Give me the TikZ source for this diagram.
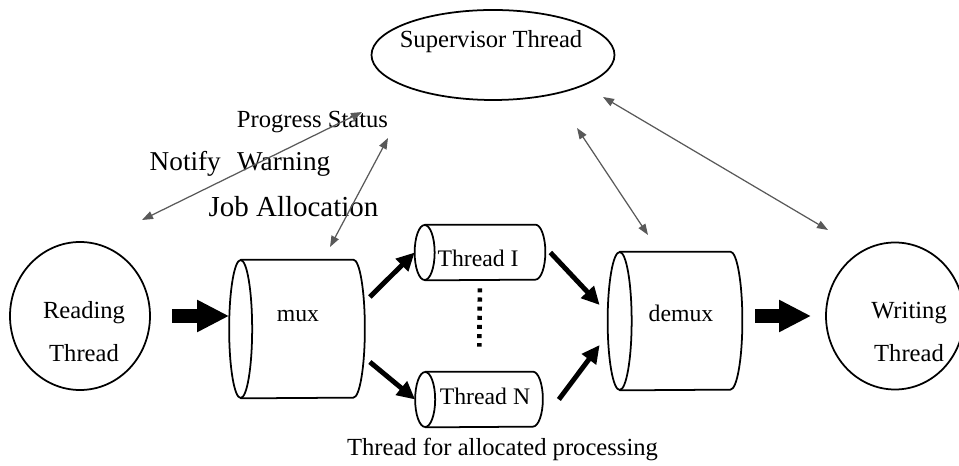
\documentclass[tikz,border=0pt]{standalone}
\usepackage{fontspec}
\setmainfont{Liberation Serif}
\usepackage{tikz}
\usetikzlibrary{arrows.meta}
\usetikzlibrary{shapes.geometric}
\usetikzlibrary{calc}
\usetikzlibrary{positioning}

\begin{document}
\begin{tikzpicture}[thread/.style={draw, ellipse, line width=1pt, inner sep=0pt},
buffer/.style={rectangle, inner sep=0pt},
txt/.style={inner sep=0pt, align=center, font=\fontsize{14}{24.5}\selectfont},
small/.style={inner sep=0pt, font=\fontsize{13.5}{16}\selectfont},
big/.style={inner sep=0pt, font=\fontsize{15.5}{18}\selectfont},
fat/.style={line width=8pt, -{Triangle[length=0.64cm,width=0.6cm]}},
feed/.style={line width=2.8pt, -{Triangle[length=0.36cm,width=0.34cm]}},
link/.style={black!65, line width=0.7pt,
{Triangle[length=0.22cm,width=0.16cm]}-{Triangle[length=0.22cm,width=0.16cm]}}]
\useasboundingbox (0,0) rectangle (19.18,9.30);

% threads
\node[thread, minimum width=4.86cm, minimum height=1.8cm] (sup) at (9.86,8.20){};
\node[thread, minimum width=2.8cm, minimum height=2.96cm] (rd) at (1.60,2.98){};
\node[thread, minimum width=2.76cm, minimum height=2.94cm] (wr) at (17.90,2.98){};
\node[txt] (suptxt) at (9.82,8.47){Supervisor Thread};
\node[txt] (rdtxt) at (1.68,2.66){Reading\\Thread};
\node[txt] (wrtxt) at (18.18,2.66){Writing\\Thread};

% buffers (outline drawn below)
\node[buffer, minimum width=2.70cm, minimum height=2.76cm] (mux) at (5.94,2.72){};
\node[buffer, minimum width=2.68cm, minimum height=2.76cm] (dmx) at (13.50,2.88){};
\node[buffer, minimum width=2.60cm, minimum height=1.10cm] (t1) at (9.60,4.25){};
\node[buffer, minimum width=2.54cm, minimum height=1.10cm] (tn) at (9.58,1.31){};
\foreach \n/\rx/\ry in {mux/0.23/1.38, dmx/0.24/1.38, t1/0.2/0.55, tn/0.2/0.55}{
\draw[line width=1pt] ($(\n.west)+(\rx,0)$) ellipse[x radius=\rx, y radius=\ry];
\draw[line width=1pt] ($(\n.north west)+(\rx,0)$) -- ($(\n.north east)+(-\rx,0)$)
arc[start angle=90, end angle=-90, x radius=\rx, y radius=\ry]
-- ($(\n.south west)+(\rx,0)$);}
\node[small] (muxtxt) at (5.96,2.98){mux};
\node[small] (dmxtxt) at (13.62,3.03){demux};
\node[small] (t1txt) at (9.56,4.13){Thread I};
\node[small] (tntxt) at (9.70,1.37){Thread N};
\draw[line width=2.6pt, dash pattern=on 2.3pt off 2.9pt, shorten <=0.16cm, shorten >=0.5cm]
(t1.south) -- (tn.north);

% labels
\node[txt] (status) at (6.25,6.85){Progress Status};
\node[big] (notify) at (4.80,6.02){Notify\hspace{0.6em}Warning};
\node[big, font=\fontsize{16.5}{18}\selectfont] (job) at (5.87,5.16){Job Allocation};
\node[txt] (alloc) at (10.05,0.32){Thread for allocated processing};

% data flow
\draw[fat, shorten <=0.42cm] (rd.east) -- (rd.east -| mux.west);
\draw[fat, shorten <=0.26cm, shorten >=0.28cm] (dmx.east |- wr.west) -- (wr.west);
\draw[feed] ($(mux.east)+(0.10,0.64)$) -- (t1.west);
\draw[feed] ($(mux.east)+(0.10,-0.66)$) -- (tn.west);
\draw[feed] ($(t1.east)+(0.10,0)$) -- ($(dmx.west)+(-0.16,0.32)$);
\draw[feed] ($(tn.east)+(0.32,0)$) -- ($(dmx.west)+(-0.16,-0.48)$);

% control links
\coordinate (a1) at (2.84,4.90);
\coordinate (b1) at (7.24,7.06);
\coordinate (a2) at (6.60,4.36);
\coordinate (b2) at (7.76,6.54);
\coordinate (a3) at (12.96,4.60);
\coordinate (b3) at (11.54,6.74);
\coordinate (a4) at (16.56,4.70);
\coordinate (b4) at (12.06,7.36);
\foreach \i in {1,2,3,4}{
\draw[link] (a\i) -- (b\i);}
\end{tikzpicture}
\end{document}
